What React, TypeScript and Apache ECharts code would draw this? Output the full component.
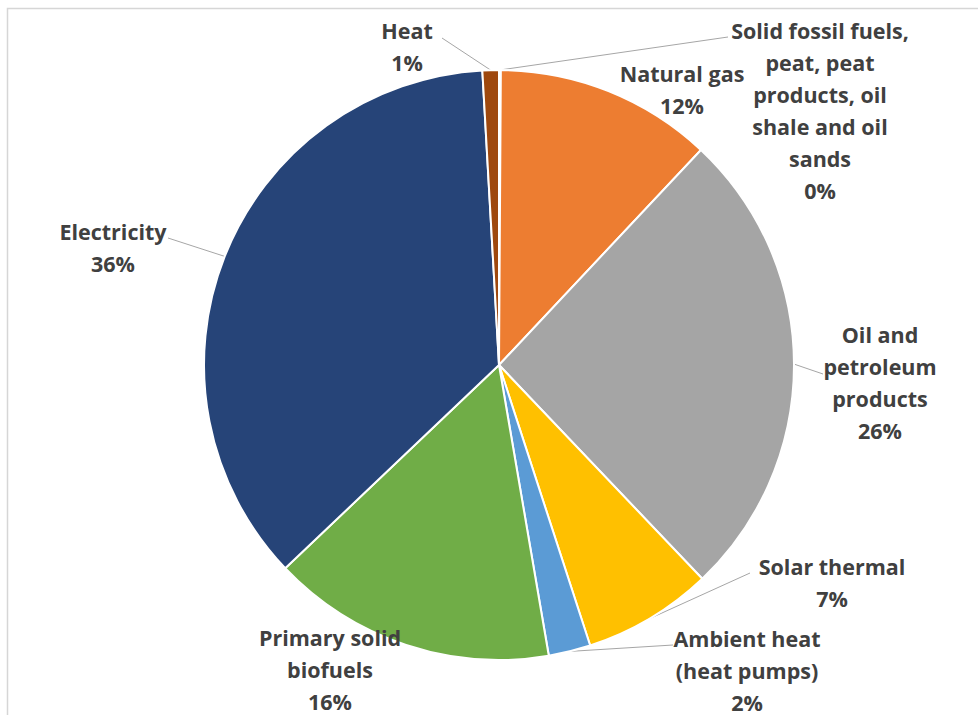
import React, { useEffect, useRef } from "react";
import * as echarts from "echarts";

// Final energy consumption shares by energy carrier
const categories = [
  "Solid fossil fuels,\npeat, peat\nproducts, oil\nshale and oil\nsands",
  "Natural gas",
  "Oil and\npetroleum\nproducts",
  "Solar thermal",
  "Ambient heat\n(heat pumps)",
  "Primary solid\nbiofuels",
  "Electricity",
  "Heat",
];
const values = [0.1, 11.9, 25.9, 7.1, 2.3, 15.6, 36.2, 0.9];
const colors = ["#4472C4", "#ED7D31", "#A5A5A5", "#FFC000", "#5B9BD5", "#70AD47", "#264478", "#9E480E"];

// Label block centres and leader-line anchor points (null = no leader line)
const labelCenters: number[][] = [
  [820, 110],
  [682, 89],
  [880, 382],
  [832, 582],
  [747, 670],
  [330, 669],
  [113, 247],
  [407, 46],
];
const leaderEnds: (number[] | null)[] = [
  [728, 37],
  null,
  [823, 374],
  [750, 573],
  [673, 645],
  null,
  [168, 238],
  [442, 38],
];

export default function App() {
  const ref = useRef<HTMLDivElement>(null);

  useEffect(() => {
    if (!ref.current) return;
    const chart = echarts.init(ref.current, undefined, { renderer: "svg" });
    const cx = 499;
    const cy = 365;
    const r = 295;
    let cum = 0;
    const total = values.reduce((a, b) => a + b, 0);
    const edgePoints = values.map((v) => {
      const mid = ((cum + v / 2) / total) * Math.PI * 2;
      cum += v;
      return [cx + r * Math.sin(mid), cy - r * Math.cos(mid)];
    });

    chart.setOption({
      animation: false,
      backgroundColor: "#ffffff",
      graphic: [
        {
          type: "rect",
          shape: { x: 7.5, y: 8.5, width: 1000, height: 800 },
          style: { fill: "none", stroke: "#d6d6d6", lineWidth: 1.5 },
          silent: true,
        },
      ],
      series: [
        {
          type: "pie",
          center: [cx, cy],
          radius: r,
          startAngle: 90,
          clockwise: true,
          percentPrecision: 0,
          avoidLabelOverlap: false,
          itemStyle: { borderColor: "#ffffff", borderWidth: 2 },
          label: {
            show: true,
            position: "outside",
            formatter: "{b}\n{d}%",
            fontFamily: "'Open Sans', Lato, sans-serif",
            fontWeight: "bold",
            fontSize: 21.5,
            lineHeight: 32,
            color: "#404040",
            align: "center",
          },
          labelLine: {
            show: true,
            length: 10,
            length2: 10,
            smooth: false,
            lineStyle: { color: "#a6a6a6", width: 1 },
          },
          labelLayout: (params: any) => {
            const i = params.dataIndex;
            const c = labelCenters[i];
            const end = leaderEnds[i];
            const out: any = {
              x: c[0],
              y: c[1],
              align: "center",
              verticalAlign: "middle",
              hideOverlap: false,
            };
            if (end) {
              out.labelLinePoints = [edgePoints[i], end, end];
            }
            return out;
          },
          data: categories.map((name, i) => ({
            name,
            value: values[i],
            itemStyle: { color: colors[i] },
            labelLine: { show: leaderEnds[i] !== null },
          })),
        },
      ],
    });
    return () => chart.dispose();
  }, []);

  return (
    <div
      ref={ref}
      style={{ position: "fixed", left: 0, top: 0, width: 978, height: 715 }}
    />
  );
}
